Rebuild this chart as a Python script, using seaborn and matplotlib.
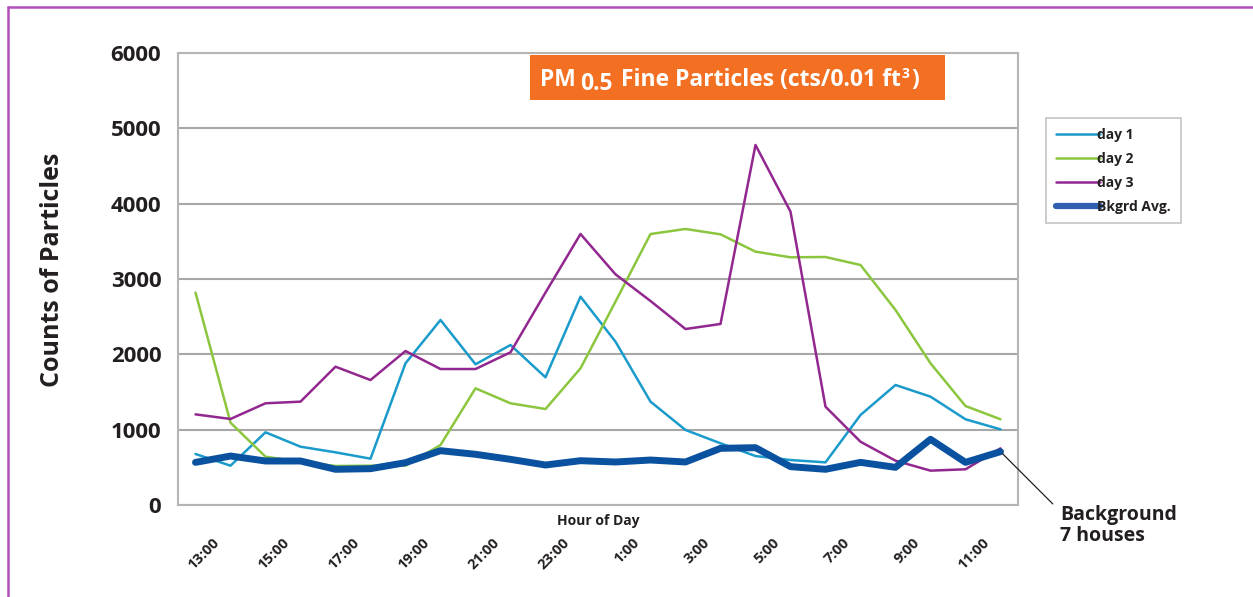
import seaborn as sns
import matplotlib.pyplot as plt
import pandas as pd
from matplotlib.patches import Rectangle
from matplotlib.lines import Line2D
from matplotlib.transforms import ScaledTranslation

horas = ['13:00', '14:00', '15:00', '16:00', '17:00', '18:00', '19:00', '20:00',
         '21:00', '22:00', '23:00', '0:00', '1:00', '2:00', '3:00', '4:00',
         '5:00', '6:00', '7:00', '8:00', '9:00', '10:00', '11:00', '12:00']
day1 = [677, 522, 965, 774, 699, 615, 1881, 2456, 1868, 2124, 1695, 2765,
        2168, 1372, 996, 819, 650, 597, 566, 1195, 1593, 1438, 1138, 1004]
day2 = [2820, 1093, 641, 575, 518, 522, 522, 796, 1549, 1350, 1274, 1814,
        2700, 3597, 3664, 3593, 3363, 3288, 3292, 3186, 2589, 1881, 1314, 1138]
day3 = [1203, 1142, 1350, 1372, 1836, 1659, 2044, 1805, 1805, 2027, 2820, 3597,
        3062, 2708, 2336, 2403, 4779, 3894, 1305, 840, 588, 456, 474, 752]
bkgrd = [566, 650, 584, 584, 474, 482, 562, 721, 673, 606, 531, 588,
         571, 597, 571, 752, 761, 509, 474, 566, 500, 872, 566, 708]

series = {'day 1': day1, 'day 2': day2, 'day 3': day3, 'Bkgrd Avg.': bkgrd}
cores = {'day 1': '#1a9bcb', 'day 2': '#8cc63f', 'day 3': '#92278f', 'Bkgrd Avg.': '#0a52a0'}
larguras = {'day 1': 1.8, 'day 2': 1.8, 'day 3': 1.8, 'Bkgrd Avg.': 5}

sns.set_theme(style='white')
plt.rcParams['font.family'] = ['Open Sans', 'DejaVu Sans']

fig = plt.figure(figsize=(12.53, 5.97), dpi=100)
ax = fig.add_axes([178/1253, 1 - 505/597, 840/1253, 452/597])

x = list(range(len(horas)))
for nome, valores in series.items():
    df = pd.DataFrame({'hora': x, 'valor': valores})
    sns.lineplot(data=df, x='hora', y='valor', ax=ax, color=cores[nome],
                 linewidth=larguras[nome], label=nome, legend=False)

ax.set_xlim(-0.5, len(horas) - 0.5)
ax.set_ylim(0, 6000)
ax.set_yticks(range(0, 6001, 1000))
ax.set_yticklabels([str(v) for v in range(0, 6001, 1000)], fontsize=16, fontweight='bold', color='#231f20')
ax.yaxis.grid(True, color='#a7a7a7', linewidth=1.5)
ax.tick_params(axis='y', length=0, pad=12)
for s in ax.spines.values():
    s.set_color('#b5b5b5')
    s.set_linewidth(1.5)

ax.set_xticks(x[::2])
ax.set_xticklabels(horas[::2], rotation=45, ha='right', rotation_mode='anchor',
                   fontsize=10.5, fontweight='bold', color='#231f20')
ax.tick_params(axis='x', length=0, pad=22)
for lab in ax.get_xticklabels():
    lab.set_transform(lab.get_transform() + ScaledTranslation(0.17, 0, fig.dpi_scale_trans))

ax.set_xlabel('')
ax.set_ylabel('Counts of Particles', fontsize=18, fontweight='bold', color='#231f20')
ax.yaxis.set_label_coords(-0.134, 0.52)
ax.text(0.5, -0.02, 'Hour of Day', transform=ax.transAxes, ha='center', va='top',
        fontsize=10, fontweight='bold', color='#231f20')

# legenda
handles = [Line2D([], [], color=cores[n], linewidth=larguras[n] if n != 'Bkgrd Avg.' else 4.5) for n in series]
handles[3].set_color('#2f5fb0')
leg = fig.legend(handles, list(series.keys()), loc='upper left',
                 bbox_to_anchor=(1046/1253, 1 - 118/597), borderaxespad=0, frameon=True, fancybox=False,
                 prop={'weight': 'bold', 'size': 10}, handlelength=3.2, handletextpad=-0.2,
                 labelspacing=0.72, borderpad=0.7)
leg.get_frame().set_edgecolor('#b5b5b5')
leg.get_frame().set_linewidth(1.2)
for t in leg.get_texts():
    t.set_color('#231f20')

# caixa do titulo
ax.add_patch(Rectangle((530/1253, 1 - 100/597), 415/1253, 45/597, transform=fig.transFigure,
                       facecolor='#f36f21', edgecolor='none', clip_on=False, zorder=5))
t1 = ax.text(540/1253, 1 - 86/597, 'PM', color='white', fontsize=16.5, fontweight='bold',
             va='baseline', transform=fig.transFigure, zorder=6)
t2 = ax.annotate('0.5', xy=(1, 0), xycoords=t1, xytext=(3, -3), textcoords='offset points',
                 color='white', fontsize=16.5, fontweight='bold', va='bottom', ha='left', zorder=6)
t3 = ax.annotate(' Fine Particles (cts/0.01 ft', xy=(1, 0), xycoords=t1, xytext=(28, 0),
                 textcoords='offset points', color='white', fontsize=16.5, fontweight='bold',
                 va='bottom', ha='left', zorder=6)
t4 = ax.annotate('3', xy=(1, 1), xycoords=t3, xytext=(1, 1), textcoords='offset points',
                 color='white', fontsize=10, fontweight='bold', va='top', ha='left', zorder=6)
ax.annotate(')', xy=(1, 0), xycoords=t3, xytext=(8, 0), textcoords='offset points',
            color='white', fontsize=16.5, fontweight='bold', va='bottom', ha='left', zorder=6)

# anotacao
ax.annotate('Background\n7 houses', xy=(len(horas) - 1, bkgrd[-1]),
            xytext=(1060/1253, 1 - 505/597), textcoords='figure fraction',
            ha='left', va='top', fontsize=14, fontweight='bold', color='#231f20',
            linespacing=1.05,
            arrowprops=dict(arrowstyle='-', color='#231f20', lw=0.9, relpos=(0, 0.85),
                            shrinkA=4, shrinkB=2))

# moldura roxa
fig.add_artist(Line2D([8/1253, 1], [1 - 7/597, 1 - 7/597], transform=fig.transFigure,
                      color='#b24fbf', linewidth=1.8))
fig.add_artist(Line2D([8/1253, 8/1253], [0, 1 - 7/597], transform=fig.transFigure,
                      color='#b24fbf', linewidth=1.8))

fig.savefig('out.png', dpi=100)
